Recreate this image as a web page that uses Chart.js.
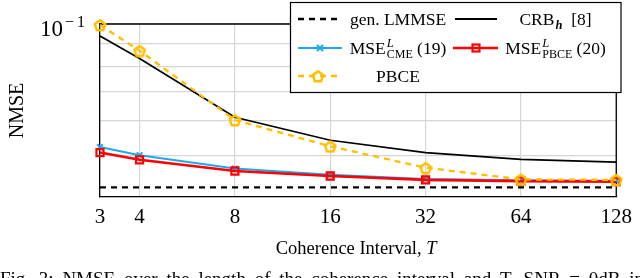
<!DOCTYPE html>
<html><head><meta charset="utf-8">
<script src="https://cdn.jsdelivr.net/npm/chart.js@4.4.1/dist/chart.umd.min.js"></script>
<style>html,body{margin:0;padding:0;background:#fff;} #wrap{width:640px;height:278px;position:relative;}</style>
</head><body><div id="wrap"><canvas id="c" width="640" height="278"></canvas></div>
<script>
// ---- data ----
const T = [3, 4, 8, 16, 32, 64, 128];
const xTickLabels = ['3', '4', '8', '16', '32', '64', '128'];
const genLMMSE = [0.0423, 0.0423, 0.0423, 0.0423, 0.0423, 0.0423, 0.0423];
const crb      = [0.0939, 0.0834, 0.0612, 0.0542, 0.0508, 0.0490, 0.0483];
const mseCME   = [0.0523, 0.0501, 0.0467, 0.0452, 0.0442, 0.0439, 0.0438];
const msePBCE  = [0.0508, 0.0489, 0.0461, 0.0449, 0.0440, 0.0437, 0.0436];
const pbce     = [0.0995, 0.0869, 0.0603, 0.0525, 0.0469, 0.0441, 0.0440];
const yGridValues = [0.0402, 0.05, 0.06, 0.07, 0.08, 0.09, 0.1];
const yMin = 0.0402, yMax = 0.1;

const C_BLUE = '#1DA9EE', C_RED = '#FF0000', C_YEL = '#FFBF00';
const SERIF = '"Liberation Serif", "DejaVu Serif", serif';

function pentagon(size, color, lw) {
  const c = document.createElement('canvas'); c.width = size; c.height = size;
  const g = c.getContext('2d'); const r = size / 2 - lw / 2 - 0.3;
  g.strokeStyle = color; g.lineWidth = lw; g.lineJoin = 'round';
  g.beginPath();
  for (let i = 0; i < 5; i++) {
    const a = -Math.PI / 2 + i * 2 * Math.PI / 5;
    const px = size / 2 + r * Math.cos(a), py = size / 2 + r * Math.sin(a) + 0.8;
    i ? g.lineTo(px, py) : g.moveTo(px, py);
  }
  g.closePath(); g.stroke(); return c;
}
const pent = pentagon(14, C_YEL, 2.5);

const mk = arr => T.map((t, i) => ({ x: t, y: arr[i] }));

function drawPent(ctx, x, y) { ctx.drawImage(pent, x - pent.width / 2, y - pent.height / 2); }

function rich(ctx, parts, cx, base) {
  let w = 0;
  parts.forEach(p => { ctx.font = p.f; p.w = ctx.measureText(p.t).width; if (!p.noadv) w += p.w + (p.gap || 0); });
  let x = cx - w / 2;
  ctx.textAlign = 'left'; ctx.textBaseline = 'alphabetic'; ctx.fillStyle = '#000';
  parts.forEach(p => { ctx.font = p.f; ctx.fillText(p.t, x + (p.gap || 0), base + (p.dy || 0)); if (!p.noadv) x += p.w + (p.gap || 0); });
}

const overlay = {
  id: 'overlay',
  beforeDatasetsDraw(chart) {
    const { ctx, chartArea: a } = chart;
    ctx.save(); ctx.strokeStyle = '#000'; ctx.lineWidth = 1.3;
    ctx.beginPath(); ctx.moveTo(a.left, a.top); ctx.lineTo(a.right, a.top); ctx.lineTo(a.right, a.bottom); ctx.stroke();
    ctx.restore();
  },
  afterDraw(chart) {
    const { ctx, chartArea: a } = chart;
    const ys = chart.scales.y;
    ctx.save();
    // y tick label 10^-1
    const yt = ys.getPixelForValue(0.1);
    ctx.fillStyle = '#000'; ctx.textBaseline = 'alphabetic'; ctx.textAlign = 'left';
    ctx.font = '23px ' + SERIF; ctx.fillText('10', 40, yt + 12);
    ctx.font = '16px ' + SERIF; ctx.fillText('\u2212', 65, yt + 3); ctx.fillText('1', 77, yt + 3);
    // y title
    ctx.save(); ctx.translate(23, (a.top + a.bottom) / 2); ctx.rotate(-Math.PI / 2);
    ctx.font = '20px ' + SERIF; ctx.textAlign = 'center'; ctx.fillText('NMSE', 0, 0); ctx.restore();
    // x title
    rich(ctx, [{ t: 'Coherence Interval, ', f: '18.5px ' + SERIF }, { t: 'T', f: 'italic 18.5px ' + SERIF }], (a.left + a.right) / 2 - 2, 254);
    // caption (partially visible, cut by the bottom edge)
    const words = 'Fig. 3: NMSE over the length of the coherence interval and T, SNR = 0dB in'.split(' ');
    ctx.font = '19px ' + SERIF;
    let tw = 0; words.forEach(w => tw += ctx.measureText(w).width);
    const gap = Math.max(4, (644 - tw) / (words.length - 1));
    let cx = 0;
    words.forEach(w => { ctx.fillText(w, cx, 285); cx += ctx.measureText(w).width + gap; });

    // legend
    const L = 290.5, Tp = 2.5, R = 621, B = 92.5;
    ctx.fillStyle = '#fff'; ctx.fillRect(L, Tp, R - L, B - Tp);
    ctx.strokeStyle = '#000'; ctx.lineWidth = 1.2; ctx.strokeRect(L, Tp, R - L, B - Tp);
    const line = (x1, x2, y, col, lw, dash) => {
      ctx.save(); ctx.strokeStyle = col; ctx.lineWidth = lw; ctx.setLineDash(dash || []);
      ctx.beginPath(); ctx.moveTo(x1, y); ctx.lineTo(x2, y); ctx.stroke(); ctx.restore();
    };
    const f = '17.5px ' + SERIF, fs = '12px ' + SERIF, fi = 'italic 12.5px ' + SERIF, fbi = 'bold italic 12.5px ' + SERIF;
    // row 1
    line(298, 338, 19, '#000', 2.4, [6, 5]);
    rich(ctx, [{ t: 'gen. LMMSE', f }], 398, 25);
    line(455, 497, 19, '#000', 1.8);
    rich(ctx, [{ t: 'CRB', f }, { t: 'h', f: fbi, dy: 4, gap: 1 }, { t: '  [8]', f }], 555.5, 25);
    // row 2
    line(298, 342, 48, C_BLUE, 2);
    ctx.save(); ctx.strokeStyle = C_BLUE; ctx.lineWidth = 2; ctx.beginPath();
    ctx.moveTo(317, 45); ctx.lineTo(323, 51); ctx.moveTo(323, 45); ctx.lineTo(317, 51); ctx.stroke(); ctx.restore();
    rich(ctx, [{ t: 'MSE', f }, { t: 'L', f: fi, dy: -7, gap: 1, noadv: true }, { t: 'CME', f: fs, dy: 4, gap: 1 }, { t: ' (19)', f }], 398, 54);
    line(453, 498, 48, C_RED, 2.6);
    ctx.save(); ctx.strokeStyle = C_RED; ctx.lineWidth = 2.2; ctx.strokeRect(472.5, 44.5, 7, 7); ctx.restore();
    rich(ctx, [{ t: 'MSE', f }, { t: 'L', f: fi, dy: -7, gap: 1, noadv: true }, { t: 'PBCE', f: fs, dy: 4, gap: 1 }, { t: ' (20)', f }], 555.5, 54);
    // row 3
    line(298, 338, 76, C_YEL, 2.3, [6, 5]);
    drawPent(ctx, 318, 76);
    rich(ctx, [{ t: 'PBCE', f }], 398, 82);
    ctx.restore();
  }
};

new Chart(document.getElementById('c'), {
  type: 'line',
  data: {
    datasets: [
      { label: 'gen. LMMSE', data: mk(genLMMSE), borderColor: '#000', borderWidth: 2.4, borderDash: [6, 5], pointRadius: 0, order: 5, clip: false },
      { label: 'CRB_h [8]', data: mk(crb), borderColor: '#000', borderWidth: 1.7, pointRadius: 0, order: 4, clip: false },
      { label: 'MSE_CME (19)', data: mk(mseCME), borderColor: C_BLUE, borderWidth: 2, pointStyle: 'crossRot', pointRadius: 4, pointBorderWidth: 2, pointBorderColor: C_BLUE, pointBackgroundColor: C_BLUE, order: 3, clip: false },
      { label: 'MSE_PBCE (20)', data: mk(msePBCE), borderColor: C_RED, borderWidth: 2.6, pointStyle: 'rect', pointRadius: 5, pointBorderWidth: 2.2, pointBorderColor: C_RED, pointBackgroundColor: 'rgba(0,0,0,0)', order: 2, clip: false },
      { label: 'PBCE', data: mk(pbce), borderColor: C_YEL, borderWidth: 2.3, borderDash: [6, 5], pointStyle: pent, pointRadius: 6, order: 1, clip: false }
    ]
  },
  options: {
    responsive: false, animation: false, events: [],
    devicePixelRatio: 1,
    layout: { padding: { left: 0, right: 19, top: 24, bottom: 0 } },
    plugins: { legend: { display: false }, tooltip: { enabled: false } },
    elements: { line: { tension: 0 } },
    scales: {
      x: {
        type: 'logarithmic', min: 3, max: 128, bounds: 'data',
        afterBuildTicks: s => { s.ticks = T.map(v => ({ value: v })); },
        afterFit: s => { s.height = 81; },
        ticks: { callback: (v, i) => xTickLabels[i], font: { family: SERIF, size: 21 }, color: '#000', padding: 8, maxRotation: 0, autoSkip: false },
        grid: { color: '#d6d6d6', lineWidth: 1.2, drawTicks: false },
        border: { color: '#000', width: 1.3 }
      },
      y: {
        type: 'logarithmic', min: yMin, max: yMax, bounds: 'data',
        afterBuildTicks: s => { s.ticks = yGridValues.map(v => ({ value: v })); },
        afterFit: s => { s.width = 100; },
        ticks: { display: false },
        grid: { color: '#d6d6d6', lineWidth: 1.2, drawTicks: false },
        border: { color: '#000', width: 1.3 }
      }
    }
  },
  plugins: [overlay]
});
</script></body></html>
